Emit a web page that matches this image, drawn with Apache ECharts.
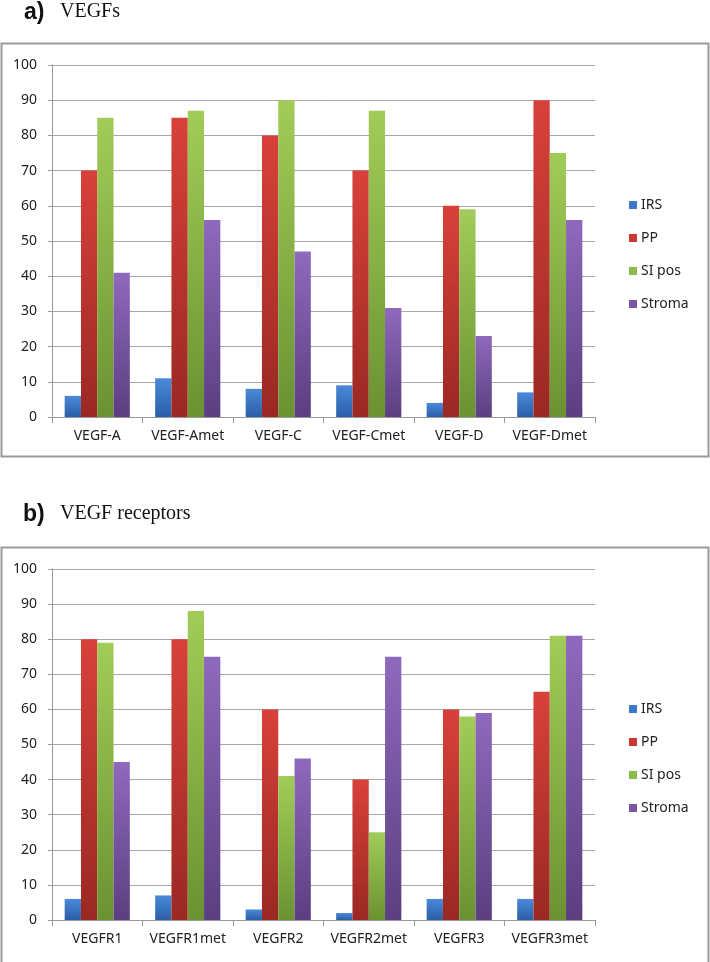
<!DOCTYPE html>
<html>
<head>
<meta charset="utf-8">
<script src="https://cdn.jsdelivr.net/npm/echarts@6/dist/echarts.min.js"></script>
<style>html,body{margin:0;padding:0;background:#fff;}#c{width:710px;height:962px;}</style>
</head>
<body>
<div id="c"></div>
<script>
const seriesNames = ['IRS', 'PP', 'SI pos', 'Stroma'];
const catsA = ['VEGF-A', 'VEGF-Amet', 'VEGF-C', 'VEGF-Cmet', 'VEGF-D', 'VEGF-Dmet'];
const irsA = [6, 11, 8, 9, 4, 7];
const ppA = [70, 85, 80, 70, 60, 90];
const siA = [85, 87, 90, 87, 59, 75];
const stromaA = [41, 56, 47, 31, 23, 56];
const catsB = ['VEGFR1', 'VEGFR1met', 'VEGFR2', 'VEGFR2met', 'VEGFR3', 'VEGFR3met'];
const irsB = [6, 7, 3, 2, 6, 6];
const ppB = [80, 80, 60, 40, 60, 65];
const siB = [79, 88, 41, 25, 58, 81];
const stromaB = [45, 75, 46, 75, 59, 81];
const yTicks = [0, 10, 20, 30, 40, 50, 60, 70, 80, 90, 100];

const grads = [
  ['#4a8ad8', '#2b5ea8'],
  ['#d8413a', '#9a2824'],
  ['#a2cc58', '#6a9232'],
  ['#8f69bd', '#5b3f80']
];
const legendColors = ['#3b78c8', '#c83a33', '#8cb84a', '#7a55a8'];
function grad(i) {
  return { type: 'linear', x: 0, y: 0, x2: 0, y2: 1,
    colorStops: [{ offset: 0, color: grads[i][0] }, { offset: 1, color: grads[i][1] }] };
}
const font = 'Noto Sans';
const chart = echarts.init(document.getElementById('c'), null, { renderer: 'canvas' });

function xAxis(cats, gi) {
  return {
    type: 'category', data: cats, gridIndex: gi,
    axisLine: { lineStyle: { color: '#9a9a9a', width: 1 } },
    axisTick: { show: true, length: 6, lineStyle: { color: '#9a9a9a' } },
    axisLabel: { color: '#222', fontSize: 14, fontFamily: font, margin: 12, interval: 0 }
  };
}
function yAxis(gi) {
  return {
    type: 'value', gridIndex: gi, min: yTicks[0], max: yTicks[yTicks.length - 1], interval: yTicks[1] - yTicks[0],
    axisLine: { show: true, lineStyle: { color: '#9a9a9a' } },
    axisTick: { show: true, length: 4, lineStyle: { color: '#9a9a9a' } },
    splitLine: { show: true, lineStyle: { color: '#a8a8a8', width: 1 } },
    axisLabel: { color: '#222', fontSize: 14, fontFamily: font, margin: 15 }
  };
}
function mkSeries(dataArr, gi) {
  return dataArr.map((d, i) => ({
    name: seriesNames[i], type: 'bar', data: d, xAxisIndex: gi, yAxisIndex: gi,
    barGap: '0%', barCategoryGap: '28%',
    itemStyle: { color: grad(i) },
    emphasis: { disabled: true }
  }));
}
function legend(top) {
  return {
    orient: 'vertical', left: 624, top: top, itemWidth: 8, itemHeight: 8, itemGap: 19,
    icon: 'rect', selectedMode: false,
    data: seriesNames.map((n, i) => ({ name: n, itemStyle: { color: legendColors[i] } })),
    textStyle: { color: '#222', fontSize: 14, fontFamily: font, padding: [0, 0, 0, -1] }
  };
}

chart.setOption({
  animation: false,
  backgroundColor: '#fff',
  grid: [
    { left: 52, right: 115, top: 65, height: 352 },
    { left: 52, right: 115, top: 569, height: 351 }
  ],
  xAxis: [xAxis(catsA, 0), xAxis(catsB, 1)],
  yAxis: [yAxis(0), yAxis(1)],
  legend: [legend(193), legend(697)],
  series: [
    ...mkSeries([irsA, ppA, siA, stromaA], 0),
    ...mkSeries([irsB, ppB, siB, stromaB], 1)
  ],
  graphic: [
    { type: 'rect', shape: { x: 1.5, y: 43.5, width: 707, height: 413 }, style: { fill: 'none', stroke: '#9a9a9a', lineWidth: 2 }, z: -1 },
    { type: 'rect', shape: { x: 1.5, y: 547.5, width: 707, height: 420 }, style: { fill: 'none', stroke: '#9a9a9a', lineWidth: 2 }, z: -1 },
    { type: 'text', left: 24, top: 1, style: { text: 'a)', font: 'bold 23px "Liberation Sans"', fill: '#111' } },
    { type: 'text', left: 60, top: 2, style: { text: 'VEGFs', font: '20px "Liberation Serif"', fill: '#111' } },
    { type: 'text', left: 23, top: 503, style: { text: 'b)', font: 'bold 23px "Liberation Sans"', fill: '#111' } },
    { type: 'text', left: 60, top: 504, style: { text: 'VEGF receptors', font: '20px "Liberation Serif"', fill: '#111' } }
  ]
});
</script>
</body>
</html>
